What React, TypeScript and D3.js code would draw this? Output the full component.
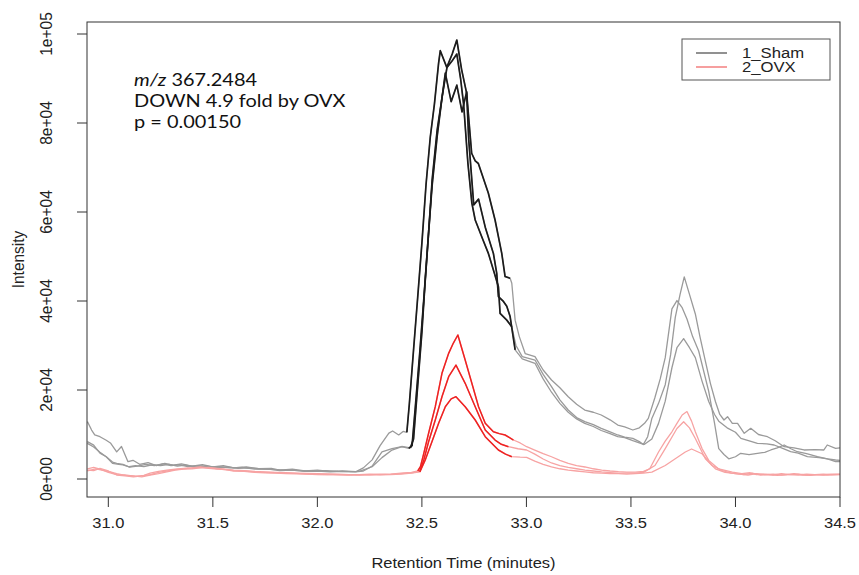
import React from "react";
import * as d3 from "d3";

type Pt = [number, number];

// ---- Data: retention time (min), intensity ----
const sham1: Pt[] = [
  [30.90, 12900], [30.92, 11000], [30.935, 9900], [30.96, 9500], [30.99, 8700], [31.01, 8100], [31.04, 6100], [31.063, 7300],
  [31.094, 3900], [31.118, 4200], [31.15, 3300], [31.19, 3700], [31.23, 3000], [31.27, 3500], [31.31, 3100], [31.35, 3400],
  [31.40, 2900], [31.45, 3200], [31.50, 2700], [31.55, 3000], [31.60, 2500], [31.66, 2700], [31.72, 2300], [31.78, 2400],
  [31.82, 2000], [31.88, 2200], [31.94, 1800], [32.00, 2000], [32.06, 1700], [32.12, 1800], [32.185, 1650], [32.22, 2500],
  [32.262, 4300], [32.30, 7500], [32.342, 10300], [32.36, 10800], [32.389, 9900], [32.41, 10700], [32.428, 10500],
  [32.44, 16900], [32.46, 29000], [32.48, 40900], [32.50, 53000], [32.52, 66300], [32.54, 76800], [32.56, 84300],
  [32.58, 93500], [32.588, 96250], [32.619, 92500], [32.645, 95500], [32.667, 98650], [32.69, 92000], [32.714, 86700],
  [32.738, 73200], [32.755, 71500], [32.77, 70900], [32.818, 64200], [32.85, 58200], [32.882, 50700], [32.898, 45500],
  [32.922, 45100], [32.93, 44000], [32.946, 35700], [32.966, 32000], [32.994, 28200], [33.041, 27480], [33.08, 24500],
  [33.12, 22250], [33.16, 20500], [33.20, 18490], [33.24, 16800], [33.279, 15500], [33.32, 15000], [33.358, 14380],
  [33.40, 13300], [33.437, 12130], [33.47, 11700], [33.509, 11010], [33.54, 11500], [33.565, 12520], [33.583, 13620],
  [33.614, 18200], [33.64, 22500], [33.664, 27260], [33.696, 38220], [33.72, 40100], [33.745, 38500], [33.768, 35950],
  [33.795, 32000], [33.824, 28760], [33.872, 19680], [33.90, 12500], [33.92, 6830], [33.945, 5500], [33.968, 4540],
  [34.00, 5000], [34.025, 5770], [34.065, 5500], [34.105, 5770], [34.14, 6000], [34.169, 6520], [34.20, 7000],
  [34.233, 7640], [34.265, 6800], [34.296, 6130], [34.34, 5700], [34.392, 5010], [34.44, 4500], [34.479, 3890], [34.50, 3900],
];

const sham2: Pt[] = [
  [30.90, 8400], [30.93, 7600], [30.96, 5800], [30.99, 5000], [31.02, 3500], [31.05, 3300], [31.07, 3150], [31.10, 2750],
  [31.13, 3000], [31.17, 2800], [31.21, 3200], [31.25, 3000], [31.29, 3300], [31.33, 2900], [31.37, 3100], [31.42, 2700],
  [31.47, 2900], [31.52, 2600], [31.57, 2700], [31.62, 2400], [31.68, 2500], [31.74, 2200], [31.80, 2100], [31.86, 2000],
  [31.92, 1900], [31.98, 1800], [32.04, 1850], [32.10, 1700], [32.16, 1650], [32.20, 1700], [32.262, 2750], [32.309, 4800],
  [32.357, 6500], [32.404, 7300], [32.437, 6900], [32.453, 7500], [32.47, 17000], [32.49, 28500], [32.51, 41000],
  [32.533, 56000], [32.549, 66000], [32.573, 77000], [32.597, 86000], [32.62, 92500], [32.645, 94000], [32.667, 95500],
  [32.685, 90000], [32.70, 84000], [32.72, 71000], [32.739, 62000], [32.755, 58200], [32.79, 54000], [32.818, 50700],
  [32.845, 46500], [32.866, 43200], [32.874, 37200], [32.906, 35700], [32.93, 34200], [32.95, 30000], [32.98, 27500],
  [33.041, 26740], [33.08, 23500], [33.12, 20740], [33.16, 17800], [33.20, 15500], [33.24, 13800], [33.279, 12880],
  [33.32, 12200], [33.358, 11390], [33.40, 10600], [33.437, 9890], [33.47, 9400], [33.509, 9140], [33.54, 8400],
  [33.559, 7730], [33.58, 9500], [33.60, 13620], [33.632, 17000], [33.664, 21190], [33.69, 28000], [33.712, 36330],
  [33.735, 41500], [33.755, 45410], [33.78, 41500], [33.808, 37080], [33.83, 32000], [33.856, 26500], [33.88, 21500],
  [33.904, 17410], [33.925, 14500], [33.945, 13260], [33.962, 14000], [33.985, 12500], [34.01, 12520], [34.042, 10270],
  [34.073, 11390], [34.11, 10000], [34.153, 9500], [34.19, 8600], [34.233, 7260], [34.28, 7000], [34.328, 6520],
  [34.38, 6600], [34.423, 6520], [34.439, 7640], [34.479, 6900], [34.50, 7000],
];

const sham3: Pt[] = [
  [30.90, 8000], [30.93, 7200], [30.96, 6000], [30.99, 5000], [31.02, 3800], [31.04, 3500], [31.07, 3300], [31.10, 2700],
  [31.14, 2900], [31.18, 3300], [31.22, 3000], [31.26, 3400], [31.30, 3000], [31.34, 3200], [31.38, 2800], [31.43, 3000],
  [31.48, 2600], [31.53, 2800], [31.58, 2500], [31.64, 2600], [31.70, 2200], [31.76, 2300], [31.82, 1900], [31.88, 2000],
  [31.94, 1700], [32.00, 1800], [32.06, 1600], [32.12, 1700], [32.18, 1600], [32.22, 1800], [32.262, 2900], [32.309, 6100],
  [32.357, 6800], [32.404, 7300], [32.445, 7000], [32.46, 9000], [32.48, 21000], [32.50, 33000], [32.515, 44000],
  [32.533, 56000], [32.549, 67200], [32.573, 78400], [32.597, 85900], [32.612, 91200], [32.64, 84800], [32.667, 88500],
  [32.692, 82500], [32.714, 87000], [32.724, 76200], [32.748, 61600], [32.771, 62900], [32.803, 56600], [32.842, 50700],
  [32.858, 46200], [32.866, 41000], [32.89, 39900], [32.906, 38800], [32.922, 36500], [32.946, 29000], [32.98, 27000],
  [33.041, 26000], [33.08, 22500], [33.12, 19500], [33.16, 17000], [33.20, 15000], [33.24, 13500], [33.279, 12500],
  [33.32, 11800], [33.358, 10900], [33.40, 10200], [33.437, 9500], [33.47, 9300], [33.509, 8600], [33.55, 7950],
  [33.565, 7800], [33.60, 9000], [33.632, 12500], [33.664, 17500], [33.696, 25000], [33.72, 29500], [33.752, 31550],
  [33.78, 29500], [33.808, 27260], [33.84, 22000], [33.872, 17410], [33.90, 14500], [33.92, 13000], [33.96, 11500],
  [34.00, 10500], [34.026, 9140], [34.07, 8500], [34.105, 8020], [34.15, 7900], [34.185, 7640], [34.22, 7000],
  [34.264, 6130], [34.30, 5800], [34.344, 5010], [34.40, 4800], [34.44, 4500], [34.479, 4270], [34.50, 4200],
];

const ovx1: Pt[] = [
  [30.90, 2300], [30.93, 2600], [30.96, 2200], [31.00, 1500], [31.04, 1000], [31.08, 900], [31.13, 600], [31.17, 800],
  [31.20, 1300], [31.24, 1700], [31.28, 2000], [31.32, 2200], [31.36, 2400], [31.40, 2500], [31.44, 2700], [31.48, 2500],
  [31.52, 2400], [31.56, 2200], [31.60, 2000], [31.65, 1900], [31.70, 1700], [31.75, 1600], [31.80, 1500], [31.85, 1400],
  [31.90, 1300], [31.95, 1250], [32.00, 1200], [32.05, 1150], [32.10, 1100], [32.15, 1000], [32.20, 1000], [32.25, 1100],
  [32.30, 1000], [32.35, 1100], [32.40, 1300], [32.45, 1500], [32.48, 1800], [32.493, 2760], [32.509, 5770],
  [32.532, 10270], [32.564, 16250], [32.596, 23750], [32.628, 28240], [32.65, 30500], [32.672, 32360], [32.707, 26740],
  [32.739, 21500], [32.771, 16250], [32.803, 12520], [32.842, 10630], [32.87, 10200], [32.898, 9890], [32.938, 8760],
  [32.97, 8100], [33.001, 7260], [33.04, 6500], [33.08, 5700], [33.12, 5000], [33.16, 4200], [33.20, 3500], [33.24, 3000],
  [33.28, 2700], [33.32, 2300], [33.36, 2000], [33.40, 1800], [33.44, 1650], [33.48, 1550], [33.52, 1550], [33.56, 1700],
  [33.59, 2300], [33.632, 6070], [33.664, 8500], [33.696, 10610], [33.72, 12500], [33.745, 14380], [33.768, 15150],
  [33.79, 13000], [33.808, 10610], [33.84, 6830], [33.872, 4180], [33.92, 2270], [33.985, 1530], [34.03, 1200],
  [34.07, 1400], [34.10, 1000], [34.14, 1100], [34.18, 900], [34.22, 1200], [34.26, 1000], [34.30, 900], [34.34, 1100],
  [34.38, 1000], [34.42, 900], [34.46, 1100], [34.50, 1100],
];

const ovx2: Pt[] = [
  [30.90, 1800], [30.94, 2300], [30.97, 2000], [31.00, 1700], [31.04, 1200], [31.08, 800], [31.12, 700], [31.16, 500],
  [31.20, 900], [31.24, 1200], [31.28, 1600], [31.32, 2000], [31.36, 2200], [31.40, 2300], [31.44, 2500], [31.48, 2600],
  [31.52, 2300], [31.56, 2100], [31.60, 1900], [31.65, 1800], [31.70, 1600], [31.75, 1500], [31.80, 1400], [31.85, 1300],
  [31.90, 1250], [31.95, 1100], [32.00, 1000], [32.05, 1050], [32.10, 950], [32.15, 900], [32.20, 1000], [32.25, 950],
  [32.30, 1100], [32.35, 1050], [32.40, 1200], [32.45, 1400], [32.49, 1700], [32.509, 4270], [32.532, 8380],
  [32.564, 13260], [32.596, 18490], [32.628, 22990], [32.663, 25600], [32.707, 21500], [32.755, 16250], [32.803, 11010],
  [32.85, 8760], [32.88, 7800], [32.914, 7260], [32.96, 6800], [33.001, 6520], [33.04, 5600], [33.08, 4500], [33.12, 3600],
  [33.16, 3000], [33.20, 2600], [33.24, 2300], [33.28, 2000], [33.32, 1800], [33.36, 1600], [33.40, 1450], [33.44, 1300],
  [33.48, 1300], [33.52, 1300], [33.56, 1500], [33.615, 3030], [33.664, 6830], [33.72, 11350], [33.752, 12880],
  [33.78, 11500], [33.808, 9100], [33.856, 4540], [33.904, 2270], [33.95, 1500], [34.00, 1200], [34.04, 1000],
  [34.08, 1300], [34.12, 900], [34.16, 1000], [34.20, 800], [34.24, 1000], [34.28, 1200], [34.32, 900], [34.36, 800],
  [34.40, 1000], [34.44, 900], [34.50, 1000],
];

const ovx3: Pt[] = [
  [30.90, 2000], [30.93, 1900], [30.96, 2400], [31.00, 1800], [31.04, 900], [31.08, 700], [31.12, 500], [31.16, 700],
  [31.20, 1000], [31.24, 1500], [31.28, 1800], [31.32, 2100], [31.36, 2300], [31.40, 2500], [31.44, 2600], [31.48, 2400],
  [31.52, 2200], [31.56, 2100], [31.60, 1800], [31.65, 1700], [31.70, 1500], [31.75, 1400], [31.80, 1300], [31.85, 1200],
  [31.90, 1150], [31.95, 1100], [32.00, 1050], [32.05, 1000], [32.10, 1000], [32.15, 950], [32.20, 900], [32.25, 1000],
  [32.30, 950], [32.35, 1000], [32.40, 1100], [32.45, 1300], [32.49, 1600], [32.516, 4270], [32.548, 8380], [32.58, 12520],
  [32.612, 16250], [32.64, 18000], [32.663, 18500], [32.707, 16250], [32.755, 13260], [32.803, 9500], [32.866, 6520],
  [32.90, 5600], [32.93, 5010], [32.97, 4900], [33.001, 4870], [33.04, 4000], [33.08, 3300], [33.12, 2700], [33.16, 2300],
  [33.20, 2000], [33.24, 1800], [33.28, 1600], [33.32, 1400], [33.36, 1300], [33.40, 1200], [33.44, 1200], [33.48, 1100],
  [33.52, 1200], [33.56, 1300], [33.60, 1530], [33.664, 3030], [33.712, 4540], [33.76, 6070], [33.79, 6740], [33.84, 5680],
  [33.888, 3030], [33.936, 1910], [33.98, 1300], [34.02, 1100], [34.06, 900], [34.10, 1200], [34.14, 1000], [34.18, 1100],
  [34.22, 900], [34.26, 1000], [34.30, 1100], [34.34, 900], [34.38, 1000], [34.42, 1100], [34.46, 1000], [34.50, 1050],
];

// peak integration windows (rtmin, rtmax) drawn in full colour
const shamWindows: [number, number][] = [[32.428, 32.922], [32.437, 32.93], [32.445, 32.946]];
const ovxWindows: [number, number][] = [[32.48, 32.95], [32.49, 32.95], [32.49, 32.95]];

const xTicks = [31.0, 31.5, 32.0, 32.5, 33.0, 33.5, 34.0, 34.5];
const yTicks = [0, 20000, 40000, 60000, 80000, 100000];
const yTickLabels = ["0e+00", "2e+04", "4e+04", "6e+04", "8e+04", "1e+05"];
const legendLabels = ["1_Sham", "2_OVX"];
const noteLines = ["367.2484", "DOWN 4.9 fold by OVX", "p = 0.00150"];

const W = 859;
const H = 575;
const box = { left: 87, right: 840, top: 22, bottom: 497 };
const SX = 1.1; // horizontal stretch of the original raster's text

export default function App() {
  const x = d3.scaleLinear().domain([30.898, 34.5]).range([box.left, box.right]);
  const y = d3.scaleLinear().domain([0, 100000]).range([479, 34]);
  const line = d3.line<Pt>().x((d) => x(d[0])).y((d) => y(d[1]));

  const clip = (pts: Pt[], w: [number, number]) => pts.filter((p) => p[0] >= w[0] && p[0] <= w[1]);

  const sham = [sham1, sham2, sham3];
  const ovx = [ovx1, ovx2, ovx3];

  const axisFont = "'Liberation Sans', Arial, Helvetica, sans-serif";
  const noteFont = "Lato, 'Open Sans', sans-serif";
  const NS = 1.14;

  return (
    <svg width={W} height={H} style={{ display: "block", position: "absolute", left: 0, top: 0, background: "#fff" }}>
      <rect x={0} y={0} width={W} height={H} fill="#fff" />
      <defs>
        <clipPath id="plotClip">
          <rect x={box.left} y={box.top} width={box.right - box.left} height={box.bottom - box.top} />
        </clipPath>
      </defs>
      <g clipPath="url(#plotClip)" fill="none" strokeLinejoin="round">
        {sham.map((s, i) => (
          <path key={"sl" + i} d={line(s) || ""} stroke="#9a9a9a" strokeWidth={1.3} />
        ))}
        {ovx.map((s, i) => (
          <path key={"ol" + i} d={line(s) || ""} stroke="#f7a3a3" strokeWidth={1.3} />
        ))}
        {sham.map((s, i) => (
          <path key={"sd" + i} d={line(clip(s, shamWindows[i])) || ""} stroke="#1c1c1c" strokeWidth={1.7} />
        ))}
        {ovx.map((s, i) => (
          <path key={"od" + i} d={line(clip(s, ovxWindows[i])) || ""} stroke="#ee2222" strokeWidth={1.5} />
        ))}
      </g>

      {/* plot box */}
      <rect x={box.left} y={box.top} width={box.right - box.left} height={box.bottom - box.top} fill="none" stroke="#333" strokeWidth={1} />

      {/* x axis */}
      <g fontFamily={axisFont} fontSize={15} fill="#222">
        {xTicks.map((t) => (
          <g key={"xt" + t}>
            <line x1={x(t)} x2={x(t)} y1={box.bottom} y2={box.bottom + 10} stroke="#333" />
            <text transform={`translate(${x(t)}, 528) scale(${SX}, 1)`} textAnchor="middle">{t.toFixed(1)}</text>
          </g>
        ))}
        <text transform={`translate(${(box.left + box.right) / 2}, 568) scale(${SX}, 1)`} textAnchor="middle">
          Retention Time (minutes)
        </text>
      </g>

      {/* y axis */}
      <g fontFamily={axisFont} fontSize={15.5} fill="#222">
        {yTicks.map((v, i) => (
          <g key={"yt" + v}>
            <line x1={box.left - 10} x2={box.left} y1={y(v)} y2={y(v)} stroke="#333" />
            <text transform={`translate(52, ${y(v)}) rotate(-90) scale(1, ${SX})`} textAnchor="middle">{yTickLabels[i]}</text>
          </g>
        ))}
        <text transform={`translate(24, ${(box.top + box.bottom) / 2}) rotate(-90) scale(1, ${SX})`} textAnchor="middle">
          Intensity
        </text>
      </g>

      {/* legend */}
      <g fontFamily={axisFont} fontSize={14.5} fill="#222">
        <rect x={682} y={39} width={148} height={41} fill="#fff" stroke="#555" strokeWidth={1} />
        <line x1={696} x2={727} y1={53} y2={53} stroke="#555" strokeWidth={1.3} />
        <text transform={`translate(742, 57.5) scale(1.15, 1)`}>{legendLabels[0]}</text>
        <line x1={696} x2={727} y1={67} y2={67} stroke="#f26b6b" strokeWidth={1.3} />
        <text transform={`translate(742, 72) scale(1.15, 1)`}>{legendLabels[1]}</text>
      </g>

      {/* annotation */}
      <g fontFamily={noteFont} fontSize={17.5} fill="#111">
        <text transform={`translate(134, 86) scale(${NS}, 1)`}>
          <tspan fontStyle="italic">m/z</tspan> {noteLines[0]}
        </text>
        <text transform={`translate(134, 107) scale(${NS}, 1)`}>{noteLines[1]}</text>
        <text transform={`translate(134, 128) scale(${NS}, 1)`}>{noteLines[2]}</text>
      </g>
    </svg>
  );
}
